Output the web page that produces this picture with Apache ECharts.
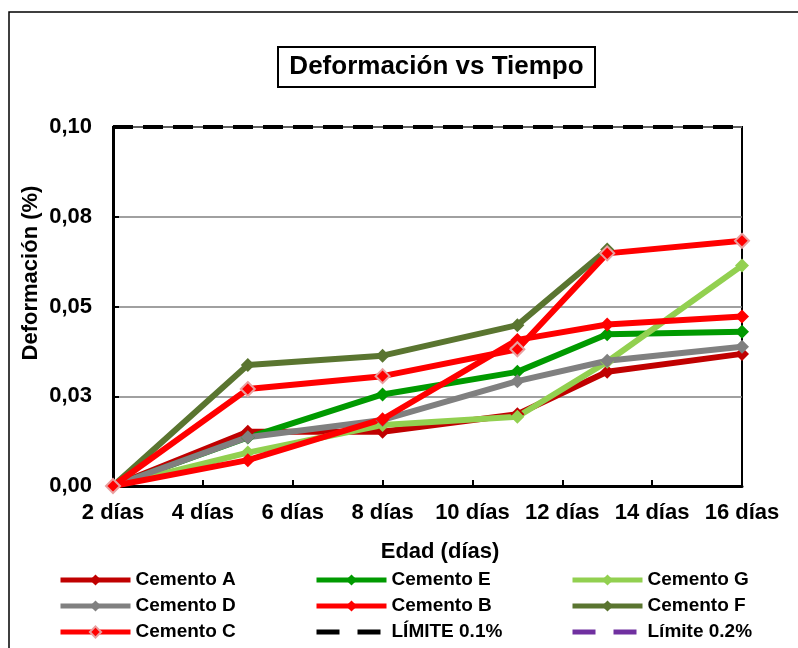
<!DOCTYPE html>
<html>
<head>
<meta charset="utf-8">
<script src="https://cdn.jsdelivr.net/npm/echarts@6/dist/echarts.min.js"></script>
<style>
html,body{margin:0;padding:0;background:#fff;}
#chart{width:798px;height:648px;}
</style>
</head>
<body>
<div id="chart"></div>
<script>
// Data
const days = [2, 5, 8, 11, 13, 16];
const cementoA = [0, 0.0151, 0.0151, 0.0200, 0.0318, 0.0368];
const cementoE = [0, 0.0135, 0.0255, 0.0318, 0.0423, 0.0430];
const cementoG = [0, 0.0093, 0.0170, 0.0193, 0.0346, 0.0614];
const cementoD = [0, 0.0136, 0.0184, 0.0292, 0.0349, 0.0388];
const cementoB = [0, 0.0072, 0.0186, 0.0407, 0.0450, 0.0472];
const cementoF = [0, 0.0337, 0.0363, 0.0448, 0.0659, null];
const cementoC = [0, 0.0270, 0.0306, 0.0381, 0.0648, 0.0683];
const limite01 = [0.10, 0.10];
const limite02 = [0.20, 0.20];
const limiteDays = [2, 16];
const yTickLabels = ['0,00', '0,03', '0,05', '0,08', '0,10'];
const xSuffix = ' días';

const FONT = '"Liberation Sans", Arial, sans-serif';
function pairs(xs, ys) { return xs.map((x, i) => [x, ys[i]]); }

function cem(name, ys, color, extra) {
  return Object.assign({
    name: name,
    type: 'line',
    data: pairs(days, ys),
    symbol: 'diamond',
    symbolSize: 14,
    connectNulls: false,
    lineStyle: { color: color, width: 6 },
    itemStyle: { color: color },
    emphasis: { disabled: true },
    animation: false
  }, extra || {});
}

const chart = echarts.init(document.getElementById('chart'), null, { renderer: 'canvas' });
const legendBase = {
  orient: 'vertical',
  itemWidth: 70,
  itemHeight: 14,
  itemGap: 6,
  height: 200,
  padding: 0,
  lineStyle: { width: 5 },
  textStyle: { fontFamily: FONT, fontWeight: 'bold', fontSize: 19, color: '#000', lineHeight: 20 },
  selectedMode: false
};
const dashedLegend = name => ({ name: name, itemStyle: { opacity: 0 }, lineStyle: { type: [23, 18], width: 5 } });

chart.setOption({
  backgroundColor: '#fff',
  animation: false,
  grid: { left: 113, right: 56, top: 127, bottom: 162, show: true, borderColor: '#000', borderWidth: 2, containLabel: false },
  graphic: [
    { type: 'rect', shape: { x: 9, y: 12, width: 800, height: 700 }, style: { fill: 'none', stroke: '#000', lineWidth: 1.5 }, z: 100 },
    { type: 'rect', shape: { x: 278, y: 47, width: 317, height: 40 }, style: { fill: '#fff', stroke: '#000', lineWidth: 2 }, z: 100 },
    { type: 'text', x: 436.5, y: 67, style: { text: 'Deformación vs Tiempo', font: 'bold 26px ' + FONT, fill: '#000', textAlign: 'center', textVerticalAlign: 'middle' }, z: 101 },
    { type: 'text', x: 440, y: 552, style: { text: 'Edad (días)', font: 'bold 22px ' + FONT, fill: '#000', textAlign: 'center', textVerticalAlign: 'middle' }, z: 101 },
    { type: 'text', x: 31, y: 273, rotation: Math.PI / 2, style: { text: 'Deformación (%)', font: 'bold 22px ' + FONT, fill: '#000', textAlign: 'center', textVerticalAlign: 'middle' }, z: 101 }
  ],
  legend: [
    Object.assign({ left: 58, top: 570, data: ['Cemento A', 'Cemento D', 'Cemento C'] }, legendBase),
    Object.assign({ left: 314, top: 570, data: ['Cemento E', 'Cemento B', dashedLegend('LÍMITE 0.1%')] }, legendBase),
    Object.assign({ left: 570, top: 570, data: ['Cemento G', 'Cemento F', dashedLegend('Límite 0.2%')] }, legendBase)
  ],
  xAxis: {
    type: 'value',
    min: 2, max: 16, interval: 2,
    axisLine: { show: true, lineStyle: { color: '#000', width: 3 } },
    axisTick: { show: true, inside: true, length: 6, lineStyle: { color: '#000', width: 2 } },
    axisLabel: { formatter: v => v + xSuffix, fontFamily: FONT, fontWeight: 'bold', fontSize: 22, color: '#000', margin: 16 },
    splitLine: { show: false }
  },
  yAxis: {
    type: 'value',
    min: 0, max: 0.1, interval: 0.025,
    axisLine: { show: true, lineStyle: { color: '#000', width: 3 } },
    axisTick: { show: true, inside: true, length: 6, lineStyle: { color: '#000', width: 2 } },
    axisLabel: { formatter: v => yTickLabels[Math.round(v / 0.025)], fontFamily: FONT, fontWeight: 'bold', fontSize: 22, color: '#000', margin: 21 },
    splitLine: { show: true, lineStyle: { color: '#808080', width: 1.5 } }
  },
  series: [
    cem('Cemento A', cementoA, '#C00000'),
    cem('Cemento E', cementoE, '#009A00'),
    cem('Cemento G', cementoG, '#92D050'),
    cem('Cemento D', cementoD, '#808080'),
    cem('Cemento B', cementoB, '#FF0000'),
    cem('Cemento F', cementoF, '#5A7530'),
    cem('Cemento C', cementoC, '#FF0000', { itemStyle: { color: '#FF0000', borderColor: '#E8A0A0', borderWidth: 2 } }),
    {
      name: 'LÍMITE 0.1%', type: 'line', data: pairs(limiteDays, limite01), symbol: 'none',
      lineStyle: { color: '#000', width: 4, type: [20, 10] }, itemStyle: { color: '#000' }, z: 5, animation: false
    },
    {
      name: 'Límite 0.2%', type: 'line', data: pairs(limiteDays, limite02), symbol: 'none',
      lineStyle: { color: '#7030A0', width: 5, type: [20, 10] }, itemStyle: { color: '#7030A0' }, animation: false
    }
  ]
});
</script>
</body>
</html>
